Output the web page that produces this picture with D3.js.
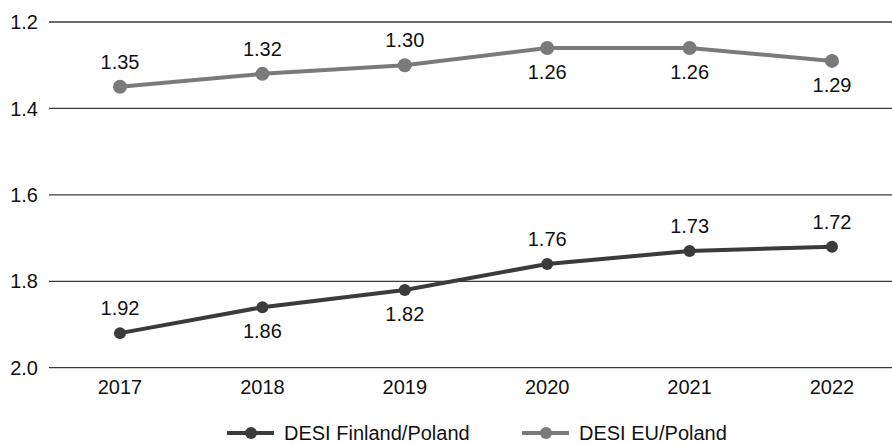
<!DOCTYPE html>
<html lang="en">
<head>
    <meta charset="UTF-8">
    <title>DESI ratios</title>
    <script src="https://cdn.jsdelivr.net/npm/d3@7"></script>
    <style>
        body { margin: 0; background: #fff; }
        text { font-family: "Liberation Sans", Arial, sans-serif; fill: #111; }
    </style>
</head>
<body>
    <div id="chart"></div>

    <script>
        // data
        const years = ["2017", "2018", "2019", "2020", "2021", "2022"];
        const finlandPoland = [1.92, 1.86, 1.82, 1.76, 1.73, 1.72];
        const euPoland = [1.35, 1.32, 1.30, 1.26, 1.26, 1.29];
        const yTicks = [1.2, 1.4, 1.6, 1.8, 2.0];
        // where each value label sits: -1 above the point, 1 below
        const finlandLabelSide = [-1, 1, 1, -1, -1, -1];
        const euLabelSide = [-1, -1, -1, 1, 1, 1];

        const width = 892, height = 444;

        const svg = d3.select("#chart")
            .append("svg")
            .attr("width", width)
            .attr("height", height);

        const x = d3.scalePoint()
            .domain(years)
            .range([120, 832]);

        // inverted axis: 1.2 at the top
        const y = d3.scaleLinear()
            .domain([1.2, 2.0])
            .range([22, 367.7]);

        const gridLeft = 49, gridRight = 892;

        // gridlines
        svg.append("g")
            .selectAll("line")
            .data(yTicks)
            .join("line")
            .attr("x1", gridLeft)
            .attr("x2", gridRight)
            .attr("y1", d => y(d))
            .attr("y2", d => y(d))
            .attr("stroke", "#3a3a3a")
            .attr("stroke-width", 1.3);

        // y labels
        svg.append("g")
            .selectAll("text")
            .data(yTicks)
            .join("text")
            .attr("x", 38)
            .attr("y", d => y(d))
            .attr("dy", "0.36em")
            .attr("text-anchor", "end")
            .style("font-size", "20px")
            .text(d => d.toFixed(1));

        // x labels
        svg.append("g")
            .selectAll("text")
            .data(years)
            .join("text")
            .attr("x", d => x(d))
            .attr("y", 394)
            .attr("text-anchor", "middle")
            .style("font-size", "20px")
            .text(d => d);

        const series = [
            { name: "DESI Finland/Poland", values: finlandPoland, sides: finlandLabelSide, color: "#3b3b3b", r: 6 },
            { name: "DESI EU/Poland", values: euPoland, sides: euLabelSide, color: "#7a7a7a", r: 7 }
        ];

        const line = d3.line()
            .x((d, i) => x(years[i]))
            .y(d => y(d));

        series.forEach(s => {
            const g = svg.append("g");

            g.append("path")
                .datum(s.values)
                .attr("d", line)
                .attr("fill", "none")
                .attr("stroke", s.color)
                .attr("stroke-width", 4);

            g.selectAll("circle")
                .data(s.values)
                .join("circle")
                .attr("cx", (d, i) => x(years[i]))
                .attr("cy", d => y(d))
                .attr("r", s.r)
                .attr("fill", s.color);

            g.selectAll("text")
                .data(s.values)
                .join("text")
                .attr("x", (d, i) => x(years[i]))
                .attr("y", (d, i) => y(d) + (s.sides[i] < 0 ? -25 : 24))
                .attr("dy", "0.36em")
                .attr("text-anchor", "middle")
                .style("font-size", "20px")
                .text(d => d.toFixed(2));
        });

        // legend
        const legendX = [227, 522];
        const legend = svg.append("g")
            .selectAll("g")
            .data(series)
            .join("g")
            .attr("transform", (d, i) => `translate(${legendX[i]}, 433)`);

        legend.append("line")
            .attr("x1", 0)
            .attr("x2", 47)
            .attr("stroke", d => d.color)
            .attr("stroke-width", 4);

        legend.append("circle")
            .attr("cx", 24)
            .attr("r", 6)
            .attr("fill", d => d.color);

        legend.append("text")
            .attr("x", 57)
            .attr("dy", "0.34em")
            .style("font-size", "20px")
            .text(d => d.name);
    </script>
</body>
</html>
